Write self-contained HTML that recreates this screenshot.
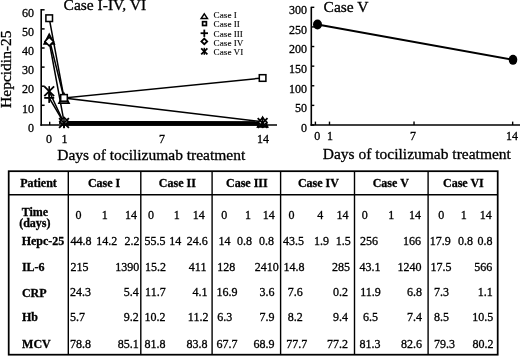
<!DOCTYPE html>
<html><head><meta charset="utf-8"><title>Hepcidin-25 and tocilizumab</title>
<style>
html,body{margin:0;padding:0;background:#fff;}
body{width:520px;height:356px;overflow:hidden;}
svg{display:block;}
svg text{font-family:"Liberation Serif", "Times New Roman", serif;fill:#000;stroke:#000;stroke-width:0.3px;}
</style></head><body>
<svg width="520" height="356" viewBox="0 0 520 356" stroke="#000" fill="none">
<rect x="0" y="0" width="520" height="356" fill="#fff" stroke="none"/>
<line x1="41.2" y1="9.0" x2="41.2" y2="125.8" stroke-width="1.6"/>
<line x1="40.4" y1="125.0" x2="277" y2="125.0" stroke-width="1.6"/>
<text x="34" y="131.6" font-size="12" text-anchor="end">0</text>
<line x1="41.2" y1="105.3" x2="44.6" y2="105.3" stroke-width="1.5"/>
<text x="34" y="112.5" font-size="12" text-anchor="end">10</text>
<line x1="41.2" y1="86.2" x2="44.6" y2="86.2" stroke-width="1.5"/>
<text x="34" y="93.4" font-size="12" text-anchor="end">20</text>
<line x1="41.2" y1="67.1" x2="44.6" y2="67.1" stroke-width="1.5"/>
<text x="34" y="74.3" font-size="12" text-anchor="end">30</text>
<line x1="41.2" y1="48.0" x2="44.6" y2="48.0" stroke-width="1.5"/>
<text x="34" y="55.2" font-size="12" text-anchor="end">40</text>
<line x1="41.2" y1="28.9" x2="44.6" y2="28.9" stroke-width="1.5"/>
<text x="34" y="36.1" font-size="12" text-anchor="end">50</text>
<line x1="41.2" y1="9.8" x2="44.6" y2="9.8" stroke-width="1.5"/>
<text x="34" y="17.0" font-size="12" text-anchor="end">60</text>
<line x1="49.7" y1="125" x2="49.7" y2="121.8" stroke-width="1.4"/>
<line x1="64.7" y1="125" x2="64.7" y2="121.8" stroke-width="1.4"/>
<line x1="156" y1="125" x2="156" y2="121.8" stroke-width="1.4"/>
<line x1="262.5" y1="125" x2="262.5" y2="121.8" stroke-width="1.4"/>
<text x="49" y="143.3" font-size="12" text-anchor="middle">0</text>
<text x="64.4" y="143.3" font-size="12" text-anchor="middle">1</text>
<text x="162" y="143.3" font-size="12" text-anchor="middle">7</text>
<text x="263" y="143.3" font-size="12" text-anchor="middle">14</text>
<text x="63.6" y="10.0" font-size="15.5">Case I-IV, VI</text>
<text x="57.2" y="159.6" font-size="15.5">Days of tocilizumab treatment</text>
<text x="0" y="0" font-size="15.5" text-anchor="middle" transform="translate(11.0 69.2) rotate(-90)">Hepcidin-25</text>
<polyline points="49.2,38.8 64.0,98.0 262.6,121.8" fill="none" stroke-width="1.5"/>
<polyline points="49.2,18.2 64.0,97.9 262.6,78.0" fill="none" stroke-width="1.5"/>
<polyline points="49.2,97.9 64.0,123.0 262.6,123.0" fill="none" stroke-width="1.5"/>
<polyline points="49.2,41.5 64.0,121.6 262.6,122.2" fill="none" stroke-width="1.5"/>
<polyline points="49.2,91.3 64.0,123.0 262.6,123.0" fill="none" stroke-width="1.5"/>
<polygon points="64,121.1 262.6,121.3 262.6,125.8 64,125.8" fill="#000" stroke="none"/>
<polygon points="49.2,34.4 54.1,43.9 44.3,43.9" fill="#fff" stroke-width="1.8"/>
<polygon points="64.0,93.6 68.9,103.1 59.1,103.1" fill="#fff" stroke-width="1.8"/>
<polygon points="262.6,117.4 267.5,126.9 257.7,126.9" fill="#fff" stroke-width="1.8"/>
<rect x="45.9" y="14.9" width="6.6" height="6.6" fill="#fff" stroke-width="1.53"/>
<rect x="60.7" y="94.6" width="6.6" height="6.6" fill="#fff" stroke-width="1.53"/>
<rect x="259.3" y="74.7" width="6.6" height="6.6" fill="#fff" stroke-width="1.53"/>
<line x1="44.2" y1="97.9" x2="54.2" y2="97.9" stroke-width="1.8"/>
<line x1="49.2" y1="92.9" x2="49.2" y2="102.9" stroke-width="1.8"/>
<line x1="59.0" y1="123.0" x2="69.0" y2="123.0" stroke-width="1.8"/>
<line x1="64.0" y1="118.0" x2="64.0" y2="128.0" stroke-width="1.8"/>
<line x1="257.6" y1="123.0" x2="267.6" y2="123.0" stroke-width="1.8"/>
<line x1="262.6" y1="118.0" x2="262.6" y2="128.0" stroke-width="1.8"/>
<polygon points="49.2,37.2 53.5,41.5 49.2,45.8 44.9,41.5" fill="#fff" stroke-width="1.53"/>
<polygon points="64.0,117.3 68.3,121.6 64.0,125.9 59.7,121.6" fill="#fff" stroke-width="1.53"/>
<polygon points="262.6,117.9 266.9,122.2 262.6,126.5 258.3,122.2" fill="#fff" stroke-width="1.53"/>
<line x1="44.3" y1="86.4" x2="54.1" y2="96.2" stroke-width="1.8"/>
<line x1="44.3" y1="96.2" x2="54.1" y2="86.4" stroke-width="1.8"/>
<line x1="49.2" y1="86.16" x2="49.2" y2="96.44" stroke-width="1.62"/>
<line x1="59.1" y1="118.1" x2="68.9" y2="127.9" stroke-width="1.8"/>
<line x1="59.1" y1="127.9" x2="68.9" y2="118.1" stroke-width="1.8"/>
<line x1="64.0" y1="117.86" x2="64.0" y2="128.15" stroke-width="1.62"/>
<line x1="257.7" y1="118.1" x2="267.5" y2="127.9" stroke-width="1.8"/>
<line x1="257.7" y1="127.9" x2="267.5" y2="118.1" stroke-width="1.8"/>
<line x1="262.6" y1="117.86" x2="262.6" y2="128.15" stroke-width="1.62"/>
<polygon points="204.3,13.9 207.4,18.4 201.2,18.4" fill="#fff" stroke-width="1.5"/>
<rect x="202.6" y="21.7" width="3.8" height="3.8" fill="#fff" stroke-width="1.7"/>
<line x1="200.6" y1="33.2" x2="208.0" y2="33.2" stroke-width="1.8"/>
<line x1="204.3" y1="29.6" x2="204.3" y2="36.9" stroke-width="1.8"/>
<polygon points="204.3,38.6 207.2,41.4 204.3,44.2 201.4,41.4" fill="#fff" stroke-width="1.8"/>
<line x1="201.2" y1="48.3" x2="207.4" y2="54.3" stroke-width="1.8"/>
<line x1="201.2" y1="54.3" x2="207.4" y2="48.3" stroke-width="1.8"/>
<line x1="204.3" y1="47.8" x2="204.3" y2="54.8" stroke-width="1.5"/>
<text x="213.6" y="18.2" font-size="9.2" style="stroke-width:0.1px">Case I</text>
<text x="213.6" y="27.35" font-size="9.2" style="stroke-width:0.1px">Case II</text>
<text x="213.6" y="36.5" font-size="9.2" style="stroke-width:0.1px">Case III</text>
<text x="213.6" y="45.65" font-size="9.2" style="stroke-width:0.1px">Case IV</text>
<text x="213.6" y="54.8" font-size="9.2" style="stroke-width:0.1px">Case VI</text>
<line x1="311.3" y1="6.8" x2="311.3" y2="125.75" stroke-width="1.6"/>
<line x1="310.5" y1="125.0" x2="520" y2="125.0" stroke-width="1.6"/>
<line x1="311.3" y1="125.0" x2="314.3" y2="125.0" stroke-width="1.4"/>
<text x="307" y="131.8" font-size="12" text-anchor="end">0</text>
<line x1="311.3" y1="105.38" x2="314.3" y2="105.38" stroke-width="1.4"/>
<text x="307" y="112.2" font-size="12" text-anchor="end">50</text>
<line x1="311.3" y1="85.77" x2="314.3" y2="85.77" stroke-width="1.4"/>
<text x="307" y="92.6" font-size="12" text-anchor="end">100</text>
<line x1="311.3" y1="66.15" x2="314.3" y2="66.15" stroke-width="1.4"/>
<text x="307" y="73.0" font-size="12" text-anchor="end">150</text>
<line x1="311.3" y1="46.53" x2="314.3" y2="46.53" stroke-width="1.4"/>
<text x="307" y="53.3" font-size="12" text-anchor="end">200</text>
<line x1="311.3" y1="26.92" x2="314.3" y2="26.92" stroke-width="1.4"/>
<text x="307" y="33.7" font-size="12" text-anchor="end">250</text>
<line x1="311.3" y1="7.3" x2="314.3" y2="7.3" stroke-width="1.4"/>
<text x="307" y="14.1" font-size="12" text-anchor="end">300</text>
<line x1="315.4" y1="125.0" x2="315.4" y2="121.6" stroke-width="1.4"/>
<line x1="329.49" y1="125.0" x2="329.49" y2="121.6" stroke-width="1.4"/>
<line x1="414.03" y1="125.0" x2="414.03" y2="121.6" stroke-width="1.4"/>
<line x1="512.66" y1="125.0" x2="512.66" y2="121.6" stroke-width="1.4"/>
<text x="317.3" y="140" font-size="12" text-anchor="middle">0</text>
<text x="330" y="140" font-size="12" text-anchor="middle">1</text>
<text x="413" y="140" font-size="12" text-anchor="middle">7</text>
<text x="512" y="140" font-size="12" text-anchor="middle">14</text>
<text x="323.6" y="11.5" font-size="15.5">Case V</text>
<text x="322.8" y="159.2" font-size="15.5">Days of tocilizumab treatment</text>
<line x1="317.5" y1="24.56" x2="513" y2="59.87" stroke-width="2.0"/>
<ellipse cx="317.5" cy="24.56" rx="4.5" ry="5" fill="#000" stroke="none"/>
<ellipse cx="513" cy="59.87" rx="4.3" ry="5" fill="#000" stroke="none"/>
<rect x="8.7" y="171.2" width="489.0" height="183.5" fill="none" stroke-width="1.75"/>
<line x1="8.7" y1="194.8" x2="497.7" y2="194.8" stroke-width="1.6"/>
<line x1="68.3" y1="171.2" x2="68.3" y2="354.7" stroke-width="1.4"/>
<line x1="140.8" y1="171.2" x2="140.8" y2="354.7" stroke-width="1.4"/>
<line x1="212.1" y1="171.2" x2="212.1" y2="354.7" stroke-width="1.4"/>
<line x1="280.6" y1="171.2" x2="280.6" y2="354.7" stroke-width="1.4"/>
<line x1="354.5" y1="171.2" x2="354.5" y2="354.7" stroke-width="1.4"/>
<line x1="428.1" y1="171.2" x2="428.1" y2="354.7" stroke-width="1.4"/>
<text x="20.2" y="187.0" font-size="12" font-weight="bold">Patient</text>
<text x="87.9" y="187.0" font-size="12" font-weight="bold">Case I</text>
<text x="158.8" y="187.0" font-size="12" font-weight="bold">Case II</text>
<text x="226" y="187.0" font-size="12" font-weight="bold">Case III</text>
<text x="297.9" y="187.0" font-size="12" font-weight="bold">Case IV</text>
<text x="372.7" y="187.0" font-size="12" font-weight="bold">Case V</text>
<text x="443" y="187.0" font-size="12" font-weight="bold">Case VI</text>
<text x="21.7" y="215.6" font-size="12" font-weight="bold">Time</text>
<text x="19.2" y="227.0" font-size="12" font-weight="bold">(days)</text>
<text x="21.7" y="244.9" font-size="12" font-weight="bold">Hepc-25</text>
<text x="21.9" y="271" font-size="12" font-weight="bold">IL-6</text>
<text x="21.9" y="296.6" font-size="12" font-weight="bold">CRP</text>
<text x="21.9" y="320.7" font-size="12" font-weight="bold">Hb</text>
<text x="22.1" y="347.7" font-size="12" font-weight="bold">MCV</text>
<text x="75.6" y="218.6" font-size="12">0</text>
<text x="101.8" y="218.6" font-size="12">1</text>
<text x="125.0" y="218.6" font-size="12">14</text>
<text x="147.9" y="218.6" font-size="12">0</text>
<text x="173.8" y="218.6" font-size="12">1</text>
<text x="192.8" y="218.6" font-size="12">14</text>
<text x="221.3" y="218.6" font-size="12">0</text>
<text x="244.9" y="218.6" font-size="12">1</text>
<text x="262.8" y="218.6" font-size="12">14</text>
<text x="288.5" y="218.6" font-size="12">0</text>
<text x="317.2" y="218.6" font-size="12">4</text>
<text x="336.4" y="218.6" font-size="12">14</text>
<text x="361.7" y="218.6" font-size="12">0</text>
<text x="388.3" y="218.6" font-size="12">1</text>
<text x="409.0" y="218.6" font-size="12">14</text>
<text x="438.3" y="218.6" font-size="12">0</text>
<text x="460.8" y="218.6" font-size="12">1</text>
<text x="479.8" y="218.6" font-size="12">14</text>
<text x="70.4" y="245.3" font-size="12">44.8</text>
<text x="96.3" y="245.3" font-size="12">14.2</text>
<text x="124.4" y="245.3" font-size="12">2.2</text>
<text x="144.5" y="245.3" font-size="12">55.5</text>
<text x="169.3" y="245.3" font-size="12">14</text>
<text x="186.8" y="245.3" font-size="12">24.6</text>
<text x="218.6" y="245.3" font-size="12">14</text>
<text x="237.0" y="245.3" font-size="12">0.8</text>
<text x="259.0" y="245.3" font-size="12">0.8</text>
<text x="283.1" y="245.3" font-size="12">43.5</text>
<text x="313.9" y="245.3" font-size="12">1.9</text>
<text x="335.7" y="245.3" font-size="12">1.5</text>
<text x="360.1" y="245.3" font-size="12">256</text>
<text x="421.0" y="245.3" font-size="12" text-anchor="end">166</text>
<text x="429.8" y="245.3" font-size="12">17.9</text>
<text x="458.1" y="245.3" font-size="12">0.8</text>
<text x="477.6" y="245.3" font-size="12">0.8</text>
<text x="70.4" y="270.6" font-size="12">215</text>
<text x="139.2" y="270.6" font-size="12" text-anchor="end">1390</text>
<text x="144.9" y="270.6" font-size="12">15.2</text>
<text x="206.4" y="270.6" font-size="12" text-anchor="end">411</text>
<text x="217.2" y="270.6" font-size="12">128</text>
<text x="278.8" y="270.6" font-size="12" text-anchor="end">2410</text>
<text x="283.5" y="270.6" font-size="12">14.8</text>
<text x="350.0" y="270.6" font-size="12" text-anchor="end">285</text>
<text x="359.4" y="270.6" font-size="12">43.1</text>
<text x="421.6" y="270.6" font-size="12" text-anchor="end">1240</text>
<text x="430.4" y="270.6" font-size="12">17.5</text>
<text x="492.2" y="270.6" font-size="12" text-anchor="end">566</text>
<text x="70.1" y="296.3" font-size="12">24.3</text>
<text x="138.8" y="296.3" font-size="12" text-anchor="end">5.4</text>
<text x="145.1" y="296.3" font-size="12">11.7</text>
<text x="207.6" y="296.3" font-size="12" text-anchor="end">4.1</text>
<text x="216.4" y="296.3" font-size="12">16.9</text>
<text x="274.5" y="296.3" font-size="12" text-anchor="end">3.6</text>
<text x="287.7" y="296.3" font-size="12">7.6</text>
<text x="348.0" y="296.3" font-size="12" text-anchor="end">0.2</text>
<text x="360.2" y="296.3" font-size="12">11.9</text>
<text x="421.9" y="296.3" font-size="12" text-anchor="end">6.8</text>
<text x="433.9" y="296.3" font-size="12">7.3</text>
<text x="492.8" y="296.3" font-size="12" text-anchor="end">1.1</text>
<text x="70.1" y="320.9" font-size="12">5.7</text>
<text x="138.8" y="320.9" font-size="12" text-anchor="end">9.2</text>
<text x="144.5" y="320.9" font-size="12">10.2</text>
<text x="208.4" y="320.9" font-size="12" text-anchor="end">11.2</text>
<text x="217.3" y="320.9" font-size="12">6.3</text>
<text x="274.5" y="320.9" font-size="12" text-anchor="end">7.9</text>
<text x="287.7" y="320.9" font-size="12">8.2</text>
<text x="348.0" y="320.9" font-size="12" text-anchor="end">9.4</text>
<text x="362.9" y="320.9" font-size="12">6.5</text>
<text x="421.9" y="320.9" font-size="12" text-anchor="end">7.4</text>
<text x="433.9" y="320.9" font-size="12">8.5</text>
<text x="493.3" y="320.9" font-size="12" text-anchor="end">10.5</text>
<text x="70.1" y="347.9" font-size="12">78.8</text>
<text x="138.8" y="347.9" font-size="12" text-anchor="end">85.1</text>
<text x="144.5" y="347.9" font-size="12">81.8</text>
<text x="207.6" y="347.9" font-size="12" text-anchor="end">83.8</text>
<text x="216.4" y="347.9" font-size="12">67.7</text>
<text x="274.5" y="347.9" font-size="12" text-anchor="end">68.9</text>
<text x="286.3" y="347.9" font-size="12">77.7</text>
<text x="348.0" y="347.9" font-size="12" text-anchor="end">77.2</text>
<text x="359.5" y="347.9" font-size="12">81.3</text>
<text x="421.9" y="347.9" font-size="12" text-anchor="end">82.6</text>
<text x="433.9" y="347.9" font-size="12">79.3</text>
<text x="493.6" y="347.9" font-size="12" text-anchor="end">80.2</text>
<line x1="70.9" y1="242.4" x2="82.3" y2="242.4" stroke-width="1.3"/>
</svg>
</body></html>
